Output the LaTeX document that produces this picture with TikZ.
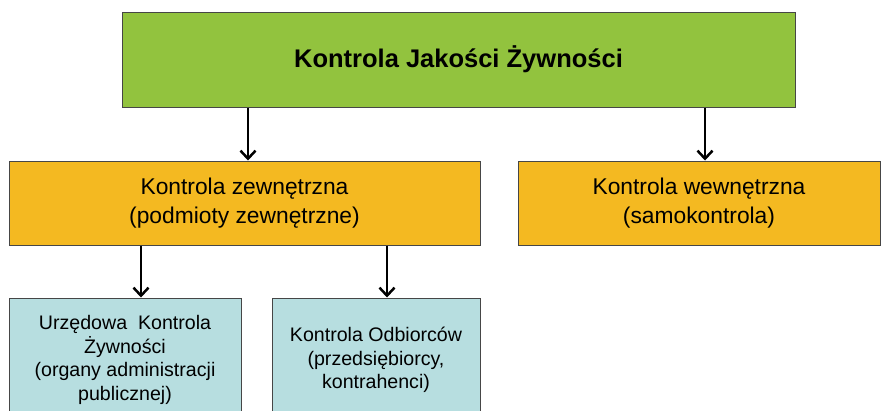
\documentclass[tikz,border=0pt]{standalone}
\usepackage{fontspec}
\setmainfont{Liberation Sans}
\usetikzlibrary{arrows.meta}
\definecolor{topgreen}{RGB}{146,195,62}
\definecolor{midorange}{RGB}{244,185,33}
\definecolor{lowblue}{RGB}{183,222,224}
\definecolor{edgegray}{RGB}{70,70,70}
\newcommand\lowered[1]{\raisebox{-3pt}{\begin{tabular}{@{}c@{}}#1\end{tabular}}}
\tikzset{
  box/.style={draw=edgegray, line width=1pt, inner sep=0pt, align=center, text=black},
  topbox/.style={box, fill=topgreen, font=\fontsize{25.5}{30}\selectfont\bfseries},
  midbox/.style={box, fill=midorange, font=\fontsize{22.8}{29}\selectfont},
  lowbox/.style={box, fill=lowblue, font=\fontsize{19.6}{23.5}\selectfont},
  arr/.style={-{Straight Barb[length=8pt,width=15pt,line width=2.5pt]}, line width=2.5pt, black}
}
\begin{document}
\begin{tikzpicture}[x=1pt,y=-1pt]
\useasboundingbox (0,0) rectangle (882,410);
\node[topbox, minimum width=673pt, minimum height=95pt] (top) at (458.5,59.5) {Kontrola Jakości Żywności};
\node[midbox, minimum width=471pt, minimum height=84pt] (ext) at (244.5,203) {\lowered{Kontrola zewnętrzna\\(podmioty zewnętrzne)}};
\node[midbox, minimum width=362pt, minimum height=84pt] (int) at (699,203) {\lowered{Kontrola wewnętrzna\\(samokontrola)}};
\node[lowbox, minimum width=232pt, minimum height=124pt] (off) at (125,360) {Urzędowa\ \ Kontrola\\Żywności\\(organy administracji\\publicznej)};
\node[lowbox, minimum width=208pt, minimum height=124pt] (rec) at (376,360) {Kontrola Odbiorców\\(przedsiębiorcy,\\kontrahenci)};
\coordinate (a1) at (248,0);
\coordinate (a2) at (705,0);
\coordinate (a3) at (141,0);
\coordinate (a4) at (387,0);
\draw[arr] (top.south -| a1) -- (ext.north -| a1);
\draw[arr] (top.south -| a2) -- (int.north -| a2);
\draw[arr] (ext.south -| a3) -- (off.north -| a3);
\draw[arr] (ext.south -| a4) -- (rec.north -| a4);
\end{tikzpicture}
\end{document}
